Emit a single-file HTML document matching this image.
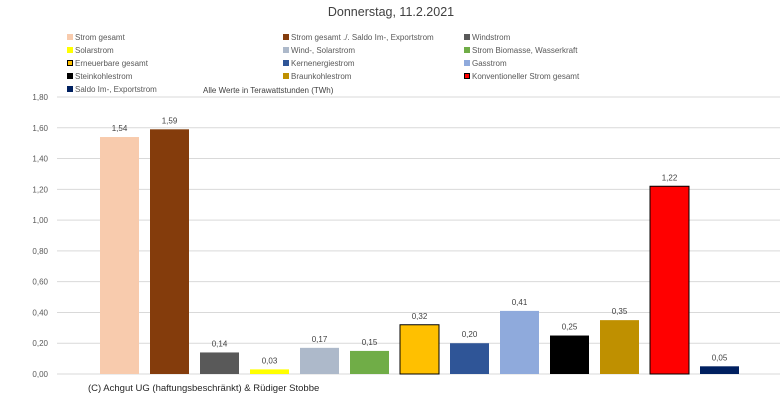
<!DOCTYPE html>
<html><head><meta charset="utf-8"><style>
body{margin:0;background:#fff;font-family:"Liberation Sans",sans-serif;}
#c{position:relative;width:782px;height:403px;overflow:hidden}
.lg{position:absolute;font-size:8px;color:#595959;white-space:nowrap}
.lg i{display:inline-block;width:6px;height:6px;margin-right:2px;vertical-align:0px;box-sizing:border-box}
</style></head><body>
<div id="c">
<div style="position:absolute;left:0;width:782px;top:5px;text-align:center;font-size:12.5px;color:#404040">Donnerstag, 11.2.2021</div>
<div id="legend"></div>
<div style="position:absolute;left:203px;top:86px;font-size:8px;color:#404040">Alle Werte in Terawattstunden (TWh)</div>
<div style="position:absolute;left:88px;top:383px;font-size:9.5px;color:#262626">(C) Achgut UG (haftungsbeschränkt) &amp; Rüdiger Stobbe</div>
<svg id="s" width="782" height="403" style="position:absolute;left:0;top:0"></svg>
</div>
<script>
const categories=["Strom gesamt","Strom gesamt ./. Saldo Im-, Exportstrom","Windstrom","Solarstrom","Wind-, Solarstrom","Strom Biomasse, Wasserkraft","Erneuerbare gesamt","Kernenergiestrom","Gasstrom","Steinkohlestrom","Braunkohlestrom","Konventioneller Strom gesamt","Saldo Im-, Exportstrom"];
const values=[1.54,1.59,0.14,0.03,0.17,0.15,0.32,0.20,0.41,0.25,0.35,1.22,0.05];
const colors=["#F8CBAD","#843C0C","#595959","#FFFF00","#ADB9CA","#70AD47","#FFC000","#2F5597","#8FAADC","#000000","#BF9000","#FF0000","#002060"];
const outlined=[false,false,false,false,false,false,true,false,false,false,false,true,false];
const ticks=[0,0.2,0.4,0.6,0.8,1.0,1.2,1.4,1.6,1.8];
const NS="http://www.w3.org/2000/svg";
const s=document.getElementById('s');
const y=v=>374-v*(277/1.8);
const x=i=>119.5+i*50;
const fmt=v=>v.toFixed(2).replace('.',',');
ticks.forEach(t=>{
 const l=document.createElementNS(NS,'line');
 l.setAttribute('x1',57);l.setAttribute('x2',780);l.setAttribute('y1',y(t));l.setAttribute('y2',y(t));
 l.setAttribute('stroke','#d9d9d9');l.setAttribute('stroke-width','1');
 
 
 s.appendChild(l);
 const tx=document.createElementNS(NS,'text');
 tx.setAttribute('x',48);tx.setAttribute('y',y(t)+3);tx.setAttribute('text-anchor','end');
 tx.setAttribute('font-size','8');tx.setAttribute('fill','#595959');tx.textContent=fmt(t);
 
 
 s.appendChild(tx);
});
values.forEach((v,i)=>{
 const r=document.createElementNS(NS,'rect');
 r.setAttribute('x',x(i)-19.5);r.setAttribute('width',39);r.setAttribute('y',y(v));r.setAttribute('height',y(0)-y(v));
 r.setAttribute('fill',colors[i]);
 if(outlined[i]){r.setAttribute('stroke','#000');r.setAttribute('stroke-width','1');}
 
 
 s.appendChild(r);
 const tx=document.createElementNS(NS,'text');
 tx.setAttribute('x',x(i));tx.setAttribute('y',y(v)-6);tx.setAttribute('text-anchor','middle');
 tx.setAttribute('font-size','8');tx.setAttribute('fill','#404040');tx.textContent=fmt(v);
 
 
 s.appendChild(tx);
});
const lg=document.getElementById('legend');
const colX=[67,283,464],rowY=[33,46,59,72,85];
categories.forEach((c,i)=>{
 const d=document.createElement('div');
 d.className='lg';
 d.style.left=colX[i%3]+'px';d.style.top=rowY[Math.floor(i/3)]+'px';
 d.innerHTML='<i style="background:'+colors[i]+(outlined[i]?';border:1px solid #000':'')+'"></i>'+c;
 
 
 lg.appendChild(d);
});
</script>
</body></html>
